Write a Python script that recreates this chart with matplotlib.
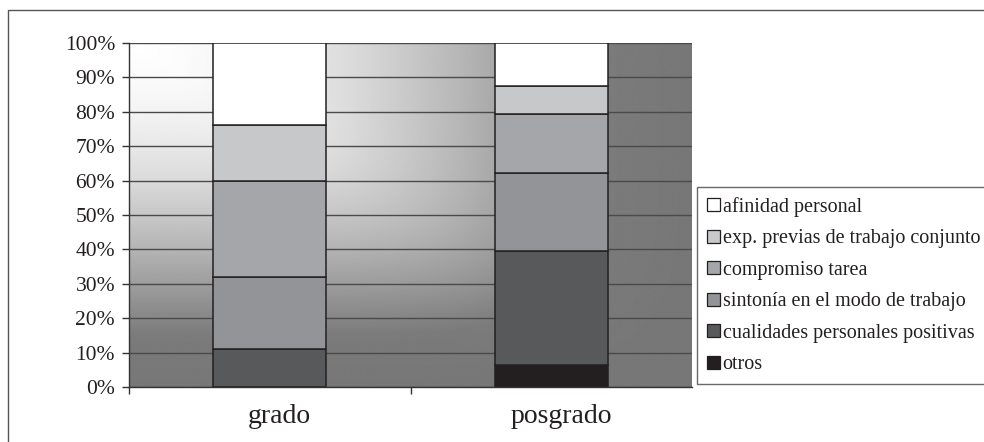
import numpy as np
import matplotlib.pyplot as plt
from matplotlib.patches import Rectangle, Patch
from matplotlib.transforms import ScaledTranslation

# Data: percentage share of each reason, per level of study
categories = ["grado", "posgrado"]
series_labels = [
    "otros",
    "cualidades personales positivas",
    "sintonía en el modo de trabajo",
    "compromiso tarea",
    "exp. previas de trabajo conjunto",
    "afinidad personal",
]
otros = [0.0, 6.5]
cualidades = [11.1, 33.1]
sintonia = [20.8, 22.5]
compromiso = [27.9, 17.3]
exp_previas = [16.5, 8.1]
afinidad = [23.7, 12.5]
y_ticks = [0, 10, 20, 30, 40, 50, 60, 70, 80, 90, 100]
y_tick_labels = [f"{t}%" for t in y_ticks]

series_values = [otros, cualidades, sintonia, compromiso, exp_previas, afinidad]
series_colors = ["#231f20", "#58595b", "#939497", "#a5a6a9", "#c7c8ca", "#ffffff"]

plt.rcParams["font.family"] = ["Liberation Serif", "DejaVu Serif"]
ink = "#231f20"

fig = plt.figure(figsize=(9.84, 4.42), dpi=100)
fig.patch.set_facecolor("white")
W, H = 984, 442
ax = fig.add_axes([129 / W, 1 - 387 / H, (692 - 129) / W, (387 - 43) / H])

# Corner gradient backdrop: white in the upper-left, grey toward right/bottom
nx, ny = 600, 400
u = np.linspace(0, 1, nx)[None, :]
v = np.linspace(0, 1, ny)[:, None]
p = 6.0
s = (u ** p + v ** p) ** (1 / p)
s_pts = [0, 0.1, 0.2, 0.3, 0.4, 0.5, 0.6, 0.7, 0.8, 0.85, 1.0, 2.0]
g_pts = [0, 4, 12, 23, 37, 55, 75, 97, 120, 132, 136, 136]
shade = (255 - np.interp(s, s_pts, g_pts)) / 255.0
ax.imshow(shade, cmap="gray", vmin=0, vmax=1, extent=[0, 1, 0, 1],
          transform=ax.transAxes, aspect="auto", zorder=0, interpolation="bilinear")

x = np.arange(len(categories))
bottom = np.zeros(len(categories))
handles = []
for label, vals, col in zip(series_labels, series_values, series_colors):
    vals = np.asarray(vals, dtype=float)
    ax.bar(x, vals, width=0.4, bottom=bottom, color=col, edgecolor=ink,
           linewidth=1.1, zorder=3)
    bottom += vals
    handles.append(Patch(facecolor=col, edgecolor=ink, linewidth=0.9, label=label))

ax.set_xlim(-0.5, 1.5)
ax.set_ylim(0, 100)
ax.set_yticks(y_ticks)
ax.set_yticklabels(y_tick_labels)
ax.yaxis.grid(True, color="#4a4a4a", linewidth=1.0, zorder=1)
ax.set_axisbelow(True)

ax.set_xticks(x)
ax.set_xticklabels(categories)
ax.set_xticks([-0.5, 0.5], minor=True)
ax.tick_params(axis="x", which="major", length=0, pad=12, labelsize=20, colors=ink)
ax.tick_params(axis="x", which="minor", length=5, width=1.0, color="#333333", direction="out")
ax.tick_params(axis="y", length=5, width=1.0, color="#333333", direction="out",
               pad=5, labelsize=15.5, labelcolor=ink)
for lbl in ax.get_xticklabels():
    lbl.set_transform(lbl.get_transform() + ScaledTranslation(10 / 100, 0, fig.dpi_scale_trans))

for side in ("top", "right"):
    ax.spines[side].set_visible(False)
for side in ("left", "bottom"):
    ax.spines[side].set_color("#333333")
    ax.spines[side].set_linewidth(1.0)
    ax.spines[side].set_zorder(4)

leg = fig.legend(handles[::-1], series_labels[::-1], loc="upper left",
                 bbox_to_anchor=(697 / W, 1 - 187 / H), borderaxespad=0,
                 fontsize=14.5, frameon=True, fancybox=False, edgecolor="#444444",
                 handlelength=0.62, handleheight=0.62, handletextpad=0.15,
                 labelspacing=0.62, borderpad=0.5)
leg.get_frame().set_linewidth(1.0)
for t in leg.get_texts():
    t.set_color(ink)

# Outer chart frame (open on the right and bottom edges of the image)
fig.add_artist(Rectangle((7.5 / W, -0.1), 2.0, 1.1 - 10.5 / H + 0.0,
                         transform=fig.transFigure, fill=False,
                         edgecolor="#555555", linewidth=1.0, clip_on=False))

fig.savefig("out.png", dpi=100, facecolor="white")
